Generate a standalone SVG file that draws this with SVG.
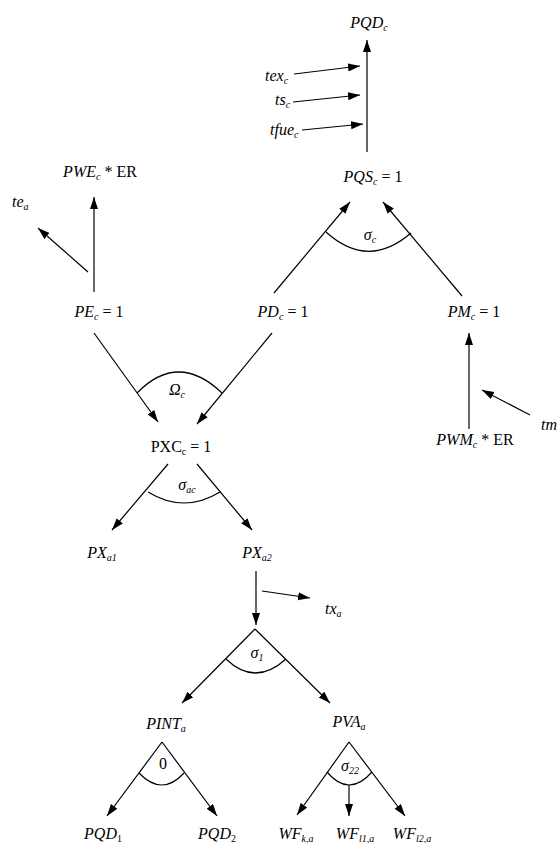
<svg xmlns="http://www.w3.org/2000/svg" width="557" height="843" viewBox="0 0 557 843" font-family="'Liberation Serif', 'Times New Roman', 'DejaVu Serif', serif">
<style>
text,tspan{font-family:'Liberation Serif','Times New Roman','DejaVu Serif',serif}
text{font-size:16px;fill:#000}
.m{text-anchor:middle}
.i{font-style:italic}
.s{font-size:10px}
.u{font-style:normal}
.c{fill:none;stroke:#000;stroke-width:1.2}
.a{marker-end:url(#ah)}
</style>
<defs>
<marker id="ah" markerUnits="userSpaceOnUse" markerWidth="13" markerHeight="9" refX="12" refY="4" orient="auto" viewBox="0 0 13 9">
<path d="M0,0 L12,4 L0,8 z" fill="#000"/>
</marker>
</defs>
<rect width="557" height="843" fill="#fff"/>
<g id="connectors">
<line class="c a" x1="367" y1="152" x2="367" y2="40"/>
<line class="c a" x1="294" y1="74" x2="360" y2="66"/>
<line class="c a" x1="293" y1="102" x2="360" y2="95"/>
<line class="c a" x1="302" y1="130" x2="363" y2="124"/>
<line class="c a" x1="94" y1="292" x2="94" y2="197"/>
<line class="c a" x1="88" y1="272" x2="38" y2="228"/>
<line class="c a" x1="274" y1="293" x2="350" y2="202"/>
<line class="c a" x1="462" y1="296" x2="383" y2="202"/>
<path class="c" d="M326,232 Q368,270 411,233"/>
<line class="c a" x1="94" y1="333" x2="158" y2="422"/>
<line class="c a" x1="272" y1="333" x2="197" y2="424"/>
<path class="c" d="M137,393 Q178,351 222,393"/>
<line class="c a" x1="168" y1="464" x2="112" y2="530"/>
<line class="c a" x1="197" y1="464" x2="252" y2="530"/>
<path class="c" d="M148,492 Q184,514 220,492"/>
<line class="c a" x1="469" y1="429" x2="469" y2="333"/>
<line class="c a" x1="530" y1="415" x2="482" y2="390"/>
<line class="c a" x1="256" y1="571" x2="256" y2="625"/>
<line class="c a" x1="262" y1="591" x2="310" y2="598"/>
<path class="c a" d="M255,629 L182,703"/>
<path class="c a" d="M255,629 L330,703"/>
<path class="c" d="M226,659 Q255,687 286,659"/>
<path class="c a" d="M162,742 L107,816"/>
<path class="c a" d="M162,742 L217,816"/>
<path class="c" d="M139,773 Q162,797 184,773"/>
<path class="c a" d="M349,742 L297,815"/>
<path class="c a" d="M349,742 L405,816"/>
<line class="c a" x1="349" y1="785" x2="349" y2="816"/>
<path class="c" d="M327,772 Q349,798 372,772"/>
</g>
<g id="PQDc"><text class="m i" x="369" y="28">PQD<tspan class="s" dy="3">c</tspan></text></g>
<g id="texc"><text class="i" x="265" y="81">tex<tspan class="s" dy="3">c</tspan></text></g>
<g id="tsc"><text class="i" x="275" y="105">ts<tspan class="s" dy="3">c</tspan></text></g>
<g id="tfuec"><text class="i" x="270" y="135">tfue<tspan class="s" dy="3">c</tspan></text></g>
<g id="PQSc"><text class="m i" x="373" y="182">PQS<tspan class="s" dy="3">c</tspan><tspan class="u" dy="-3"> = 1</tspan></text></g>
<g id="PWEc"><text class="m i" x="100" y="177">PWE<tspan class="s" dy="3">c</tspan><tspan class="u" dy="-3"> * ER</tspan></text></g>
<g id="tea"><text class="i" x="12" y="207">te<tspan class="s" dy="3">a</tspan></text></g>
<g id="PEc"><text class="m i" x="99" y="317">PE<tspan class="s" dy="3">c</tspan><tspan class="u" dy="-3"> = 1</tspan></text></g>
<g id="PDc"><text class="m i" x="283" y="317">PD<tspan class="s" dy="3">c</tspan><tspan class="u" dy="-3"> = 1</tspan></text></g>
<g id="PMc"><text class="m i" x="474" y="317">PM<tspan class="s" dy="3">c</tspan><tspan class="u" dy="-3"> = 1</tspan></text></g>
<g id="sigmac"><text class="m i" x="370" y="240">σ<tspan class="s" dy="3">c</tspan></text></g>
<g id="Omegac"><text class="m i" x="177" y="395">Ω<tspan class="s" dy="3">c</tspan></text></g>
<g id="PXCc"><text class="m" x="181" y="452">PXC<tspan class="s" dy="3">c</tspan><tspan dy="-3"> = 1</tspan></text></g>
<g id="PWMc"><text class="m i" x="475" y="445">PWM<tspan class="s" dy="3">c</tspan><tspan class="u" dy="-3"> * ER</tspan></text></g>
<g id="tm"><text class="i" x="541" y="430">tm</text></g>
<g id="sigmaac"><text class="m i" x="187" y="490">σ<tspan class="s" dy="3">ac</tspan></text></g>
<g id="PXa1"><text class="m i" x="102" y="558">PX<tspan class="s" dy="3">a1</tspan></text></g>
<g id="PXa2"><text class="m i" x="257" y="558">PX<tspan class="s" dy="3">a2</tspan></text></g>
<g id="txa"><text class="i" x="325" y="614">tx<tspan class="s" dy="3">a</tspan></text></g>
<g id="sigma1"><text class="m i" x="257" y="658">σ<tspan class="s" dy="3">1</tspan></text></g>
<g id="PINTa"><text class="m i" x="166" y="729">PINT<tspan class="s" dy="3">a</tspan></text></g>
<g id="PVAa"><text class="m i" x="349" y="727">PVA<tspan class="s" dy="3">a</tspan></text></g>
<g id="zero"><text class="m" x="163" y="769">0</text></g>
<g id="sigma22"><text class="m i" x="350" y="771">σ<tspan class="s" dy="3">22</tspan></text></g>
<g id="PQD1"><text class="m i" x="103" y="839">PQD<tspan class="s u" dy="3">1</tspan></text></g>
<g id="PQD2"><text class="m i" x="217" y="839">PQD<tspan class="s u" dy="3">2</tspan></text></g>
<g id="WFka"><text class="m i" x="296" y="839">WF<tspan class="s" dy="3">k,a</tspan></text></g>
<g id="WFl1a"><text class="m i" x="355" y="839">WF<tspan class="s" dy="3">l1,a</tspan></text></g>
<g id="WFl2a"><text class="m i" x="412" y="839">WF<tspan class="s" dy="3">l2,a</tspan></text></g>
</svg>
